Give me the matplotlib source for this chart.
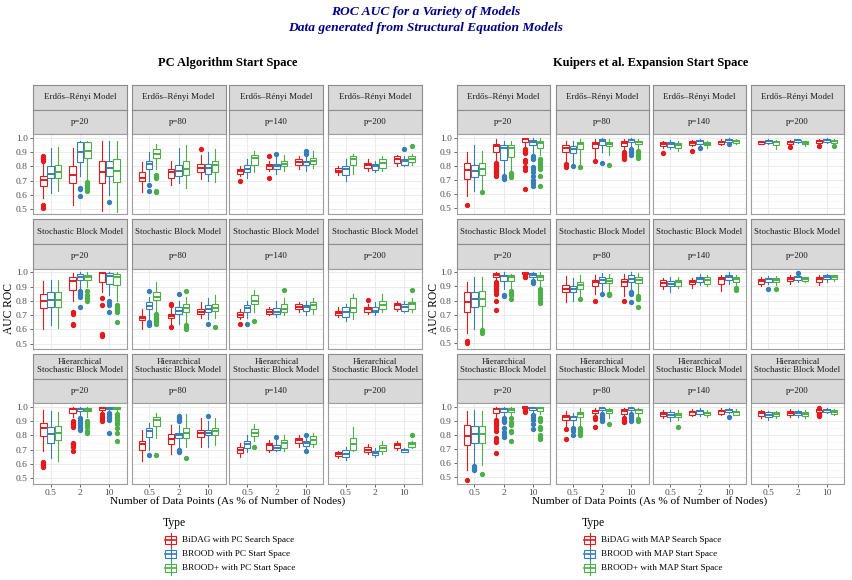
import matplotlib.pyplot as plt
from matplotlib.patches import Rectangle

plt.rcParams['font.family'] = ['Liberation Serif', 'DejaVu Serif']

# categories
p_values = [20, 80, 140, 200]
x_labels = ['0.5', '2', '10']
model_names = ['Erdős–Rényi Model', 'Stochastic Block Model', 'Hierarchical\nStochastic Block Model']
types_pc = ['BiDAG with PC Search Space', 'BROOD with PC Start Space', 'BROOD+ with PC Start Space']
types_map = ['BiDAG with MAP Search Space', 'BROOD with MAP Start Space', 'BROOD+ with MAP Start Space']

# box stats per facet: 9 rows = (0.5, 2, 10) x (BiDAG, BROOD, BROOD+), each [lo, q1, med, q3, hi]
pc_er_box = {
    20: [[0.58, 0.663, 0.705, 0.73, 0.83], [0.61, 0.72, 0.75, 0.80, 0.93], [0.63, 0.72, 0.76, 0.81, 0.94],
         [0.53, 0.68, 0.74, 0.80, 0.93], [0.73, 0.83, 0.90, 0.97, 0.98], [0.70, 0.86, 0.91, 0.97, 0.98],
         [0.49, 0.68, 0.76, 0.84, 0.98], [0.60, 0.73, 0.79, 0.84, 0.98], [0.48, 0.69, 0.77, 0.85, 0.98]],
    80: [[0.62, 0.70, 0.72, 0.76, 0.83], [0.70, 0.78, 0.82, 0.84, 0.90], [0.78, 0.86, 0.89, 0.92, 0.96],
         [0.67, 0.72, 0.76, 0.78, 0.84], [0.68, 0.73, 0.77, 0.81, 0.93], [0.65, 0.74, 0.78, 0.84, 0.95],
         [0.71, 0.76, 0.79, 0.82, 0.88], [0.70, 0.75, 0.79, 0.82, 0.90], [0.69, 0.76, 0.81, 0.84, 0.92]],
    140: [[0.73, 0.75, 0.765, 0.78, 0.80], [0.72, 0.76, 0.78, 0.81, 0.85], [0.76, 0.81, 0.86, 0.88, 0.91],
          [0.77, 0.78, 0.80, 0.82, 0.84], [0.75, 0.78, 0.80, 0.82, 0.87], [0.77, 0.80, 0.82, 0.84, 0.88],
          [0.78, 0.81, 0.83, 0.85, 0.87], [0.77, 0.81, 0.83, 0.84, 0.88], [0.79, 0.82, 0.84, 0.86, 0.91]],
    200: [[0.74, 0.76, 0.77, 0.79, 0.80], [0.70, 0.74, 0.78, 0.80, 0.85], [0.75, 0.81, 0.85, 0.87, 0.89],
          [0.77, 0.79, 0.81, 0.825, 0.85], [0.76, 0.775, 0.80, 0.82, 0.84], [0.77, 0.79, 0.825, 0.85, 0.87],
          [0.80, 0.825, 0.85, 0.87, 0.88], [0.80, 0.81, 0.84, 0.85, 0.87], [0.81, 0.83, 0.855, 0.87, 0.89]],
}
pc_er_out = {
    20: [[0.84, 0.85, 0.86, 0.87, 0.53, 0.51], [], [], [], [0.65, 0.64, 0.59], [0.69, 0.67, 0.65, 0.64, 0.63],
         [], [0.55], []],
    80: [[], [0.67, 0.63], [0.74, 0.73, 0.72, 0.63, 0.62], [], [], [], [0.92], [], []],
    140: [[0.70], [], [], [0.87, 0.72], [0.89], [], [], [0.89, 0.90, 0.91], []],
    200: [[], [], [], [], [], [], [], [0.92], [0.945]],
}

pc_sbm_box = {
    20: [[0.60, 0.75, 0.80, 0.85, 0.94], [0.63, 0.76, 0.81, 0.86, 0.95], [0.61, 0.76, 0.81, 0.86, 0.95],
         [0.80, 0.876, 0.94, 0.97, 0.995], [0.89, 0.95, 0.97, 0.99, 1.0], [0.90, 0.95, 0.965, 0.985, 1.0],
         [0.86, 0.935, 0.995, 1.0, 1.0], [0.84, 0.92, 0.975, 0.995, 1.0], [0.80, 0.91, 0.97, 0.99, 1.0]],
    80: [[0.60, 0.665, 0.68, 0.695, 0.74], [0.67, 0.74, 0.765, 0.79, 0.83], [0.73, 0.81, 0.83, 0.86, 0.93],
         [0.64, 0.68, 0.695, 0.71, 0.76], [0.64, 0.71, 0.73, 0.76, 0.80], [0.64, 0.72, 0.75, 0.78, 0.83],
         [0.68, 0.71, 0.725, 0.74, 0.79], [0.67, 0.72, 0.745, 0.77, 0.82], [0.68, 0.73, 0.75, 0.78, 0.84]],
    140: [[0.67, 0.69, 0.70, 0.72, 0.74], [0.68, 0.72, 0.75, 0.77, 0.80], [0.72, 0.78, 0.80, 0.84, 0.88],
          [0.70, 0.71, 0.72, 0.745, 0.76], [0.69, 0.71, 0.72, 0.75, 0.80], [0.70, 0.72, 0.74, 0.78, 0.82],
          [0.72, 0.74, 0.76, 0.78, 0.79], [0.70, 0.73, 0.755, 0.77, 0.80], [0.71, 0.74, 0.77, 0.79, 0.82]],
    200: [[0.69, 0.70, 0.715, 0.73, 0.76], [0.66, 0.69, 0.72, 0.755, 0.78], [0.67, 0.72, 0.75, 0.82, 0.85],
          [0.71, 0.72, 0.74, 0.755, 0.78], [0.70, 0.72, 0.73, 0.76, 0.79], [0.72, 0.74, 0.77, 0.80, 0.85],
          [0.73, 0.745, 0.77, 0.785, 0.80], [0.72, 0.73, 0.76, 0.78, 0.80], [0.72, 0.745, 0.775, 0.79, 0.82]],
}
pc_sbm_out = {
    20: [[], [], [], [0.72, 0.71, 0.64, 0.63], [0.87, 0.86, 0.85, 0.84, 0.83, 0.76], [0.87, 0.84, 0.82, 0.80],
         [0.82, 0.77, 0.57, 0.55], [0.80, 0.79, 0.77, 0.72], [0.77, 0.76, 0.75, 0.74, 0.73, 0.72, 0.65]],
    80: [[], [0.87, 0.65, 0.64, 0.63], [0.71, 0.70, 0.69, 0.68, 0.67, 0.66, 0.65, 0.64], [0.78, 0.77, 0.62],
         [0.85], [0.87, 0.63, 0.62, 0.61, 0.60], [], [0.64], [0.62]],
    140: [[0.64], [0.64], [0.66], [], [], [0.88], [], [], []],
    200: [[], [], [], [0.81], [], [], [], [], [0.88]],
}

pc_hsbm_box = {
    20: [[0.69, 0.795, 0.855, 0.89, 0.98], [0.64, 0.75, 0.81, 0.86, 0.97], [0.62, 0.765, 0.815, 0.865, 0.965],
         [0.93, 0.955, 0.985, 0.995, 1.0], [0.93, 0.97, 0.985, 0.995, 1.0], [0.93, 0.97, 0.98, 0.995, 1.0],
         [0.96, 0.98, 0.995, 1.0, 1.0], [0.97, 0.985, 0.99, 1.0, 1.0], [0.97, 0.985, 0.99, 1.0, 1.0]],
    80: [[0.62, 0.70, 0.737, 0.76, 0.84], [0.70, 0.79, 0.83, 0.853, 0.89], [0.78, 0.865, 0.91, 0.93, 0.96],
         [0.67, 0.737, 0.775, 0.807, 0.87], [0.71, 0.78, 0.80, 0.82, 0.87], [0.72, 0.784, 0.82, 0.853, 0.95],
         [0.72, 0.79, 0.815, 0.84, 0.92], [0.72, 0.80, 0.82, 0.84, 0.90], [0.73, 0.80, 0.83, 0.855, 0.92]],
    140: [[0.65, 0.674, 0.70, 0.72, 0.75], [0.68, 0.714, 0.74, 0.76, 0.80], [0.76, 0.795, 0.82, 0.846, 0.88],
          [0.68, 0.70, 0.73, 0.75, 0.77], [0.69, 0.70, 0.71, 0.73, 0.77], [0.69, 0.714, 0.745, 0.77, 0.80],
          [0.72, 0.744, 0.765, 0.78, 0.80], [0.70, 0.725, 0.745, 0.76, 0.79], [0.72, 0.737, 0.765, 0.795, 0.82]],
    200: [[0.64, 0.656, 0.67, 0.68, 0.69], [0.63, 0.65, 0.672, 0.70, 0.72], [0.69, 0.70, 0.74, 0.784, 0.86],
          [0.67, 0.684, 0.70, 0.72, 0.74], [0.65, 0.663, 0.675, 0.69, 0.71], [0.67, 0.69, 0.71, 0.73, 0.76],
          [0.70, 0.714, 0.73, 0.744, 0.76], [0.68, 0.684, 0.695, 0.707, 0.71], [0.71, 0.72, 0.74, 0.754, 0.76]],
}
pc_hsbm_out = {
    20: [[0.61, 0.60, 0.59, 0.58], [], [], [0.90, 0.89, 0.88, 0.87, 0.86, 0.75, 0.74, 0.73, 0.72, 0.69],
         [0.92, 0.91, 0.90, 0.89, 0.88, 0.87, 0.86, 0.85, 0.84], [0.90, 0.89, 0.87, 0.86, 0.83, 0.82],
         [0.95, 0.94, 0.93, 0.92, 0.91, 0.90], [0.96, 0.95, 0.94, 0.93, 0.92, 0.91, 0.82],
         [0.95, 0.94, 0.93, 0.92, 0.91, 0.89, 0.88, 0.85, 0.82, 0.76]],
    80: [[], [0.66], [0.66], [], [0.94, 0.93, 0.92, 0.91, 0.90, 0.70, 0.69, 0.68], [0.64], [], [0.935], []],
    140: [[], [], [0.72], [], [0.79], [], [], [0.80, 0.69], []],
    200: [[], [], [], [], [], [], [], [], [0.80]],
}

map_er_box = {
    20: [[0.59, 0.71, 0.77, 0.82, 0.90], [0.62, 0.725, 0.765, 0.81, 0.95], [0.64, 0.735, 0.78, 0.82, 0.91],
         [0.83, 0.90, 0.945, 0.96, 0.99], [0.74, 0.84, 0.93, 0.95, 0.98], [0.76, 0.865, 0.93, 0.95, 0.98],
         [0.93, 0.97, 0.99, 1.0, 1.0], [0.89, 0.95, 0.97, 0.985, 1.0], [0.88, 0.93, 0.965, 0.98, 1.0]],
    80: [[0.83, 0.90, 0.925, 0.95, 0.98], [0.82, 0.895, 0.92, 0.94, 0.98], [0.80, 0.92, 0.955, 0.97, 0.99],
         [0.86, 0.93, 0.955, 0.97, 0.99], [0.90, 0.95, 0.98, 0.99, 1.0], [0.88, 0.94, 0.96, 0.97, 0.99],
         [0.91, 0.945, 0.965, 0.975, 0.99], [0.93, 0.97, 0.985, 0.99, 1.0], [0.925, 0.96, 0.97, 0.98, 0.99]],
    140: [[0.93, 0.94, 0.955, 0.97, 0.98], [0.92, 0.936, 0.96, 0.97, 0.985], [0.91, 0.925, 0.95, 0.965, 0.98],
          [0.94, 0.95, 0.965, 0.976, 0.985], [0.945, 0.96, 0.975, 0.985, 0.995], [0.93, 0.948, 0.96, 0.97, 0.98],
          [0.95, 0.955, 0.97, 0.978, 0.99], [0.96, 0.97, 0.985, 0.993, 1.0], [0.955, 0.965, 0.98, 0.988, 0.995]],
    200: [[0.955, 0.96, 0.97, 0.976, 0.98], [0.96, 0.965, 0.98, 0.985, 0.99], [0.92, 0.95, 0.97, 0.98, 0.985],
          [0.95, 0.96, 0.97, 0.98, 0.985], [0.965, 0.972, 0.983, 0.988, 0.995], [0.945, 0.956, 0.967, 0.975, 0.98],
          [0.96, 0.965, 0.977, 0.985, 0.99], [0.965, 0.97, 0.985, 0.993, 1.0], [0.955, 0.967, 0.978, 0.985, 0.99]],
}
map_er_out = {
    20: [[0.52], [], [0.615], [0.82, 0.81, 0.80, 0.79, 0.78, 0.77, 0.76, 0.75, 0.74, 0.73], [0.73, 0.72, 0.71],
         [0.75, 0.74, 0.73, 0.72], [0.92, 0.91, 0.90, 0.89, 0.84, 0.83, 0.79, 0.77, 0.64],
         [0.87, 0.86, 0.85, 0.79, 0.78, 0.76, 0.73, 0.70, 0.68, 0.655],
         [0.85, 0.84, 0.82, 0.80, 0.79, 0.78, 0.73, 0.66]],
    80: [[0.815, 0.805, 0.795], [0.80], [0.79], [0.835], [0.82], [0.805], [0.90, 0.89, 0.88, 0.87, 0.86, 0.85],
         [0.92, 0.91, 0.90, 0.89, 0.875], [0.91, 0.90, 0.89, 0.88, 0.87, 0.86]],
    140: [[0.89], [], [], [0.91], [0.925], [], [], [0.955], []],
    200: [[], [], [], [0.935], [], [], [0.94], [], [0.945]],
}

map_sbm_box = {
    20: [[0.57, 0.72, 0.79, 0.86, 0.93], [0.60, 0.755, 0.81, 0.86, 0.97], [0.60, 0.76, 0.81, 0.87, 0.97],
         [0.94, 0.97, 0.985, 0.995, 1.0], [0.88, 0.94, 0.975, 0.985, 1.0], [0.89, 0.94, 0.965, 0.98, 0.99],
         [0.98, 0.99, 0.997, 1.0, 1.0], [0.95, 0.965, 0.98, 0.993, 1.0], [0.90, 0.945, 0.97, 0.985, 1.0]],
    80: [[0.79, 0.86, 0.885, 0.91, 0.975], [0.80, 0.86, 0.88, 0.90, 0.96], [0.83, 0.88, 0.91, 0.935, 0.985],
         [0.85, 0.90, 0.93, 0.945, 0.985], [0.87, 0.925, 0.945, 0.965, 0.995], [0.87, 0.925, 0.94, 0.96, 0.99],
         [0.83, 0.90, 0.935, 0.95, 0.99], [0.88, 0.935, 0.955, 0.98, 1.0], [0.85, 0.925, 0.945, 0.97, 0.995]],
    140: [[0.88, 0.905, 0.925, 0.945, 0.96], [0.86, 0.90, 0.92, 0.94, 0.97], [0.89, 0.905, 0.93, 0.945, 0.97],
          [0.89, 0.915, 0.93, 0.945, 0.96], [0.91, 0.935, 0.955, 0.97, 0.99], [0.90, 0.92, 0.945, 0.965, 0.98],
          [0.87, 0.92, 0.95, 0.97, 0.985], [0.92, 0.945, 0.965, 0.98, 1.0], [0.90, 0.935, 0.955, 0.97, 0.985]],
    200: [[0.90, 0.92, 0.94, 0.953, 0.97], [0.92, 0.935, 0.95, 0.96, 0.975], [0.91, 0.935, 0.945, 0.96, 0.975],
          [0.92, 0.94, 0.955, 0.965, 0.98], [0.93, 0.945, 0.965, 0.975, 0.99], [0.93, 0.94, 0.955, 0.965, 0.97],
          [0.91, 0.935, 0.955, 0.97, 0.98], [0.93, 0.95, 0.97, 0.985, 0.99], [0.94, 0.95, 0.97, 0.98, 0.985]],
}
map_sbm_out = {
    20: [[0.51, 0.50], [], [0.59, 0.58, 0.57], [0.93, 0.92, 0.91, 0.90, 0.89, 0.88, 0.87, 0.85, 0.80, 0.73],
         [0.84, 0.835], [0.87, 0.86, 0.85, 0.84, 0.81], [0.975, 0.97, 0.965], [0.94, 0.93, 0.925],
         [0.88, 0.86, 0.84, 0.82, 0.80, 0.79, 0.78]],
    80: [[], [], [0.81], [0.80], [0.85], [0.85, 0.845, 0.84], [0.795], [0.86, 0.855, 0.85, 0.79],
         [0.83, 0.82, 0.81, 0.755]],
    140: [[], [], [], [], [], [], [], [], [0.89, 0.885, 0.88, 0.875]],
    200: [[], [0.88], [0.88], [], [0.995], [], [], [], []],
}

map_hsbm_box = {
    20: [[0.55, 0.73, 0.79, 0.87, 0.97], [0.60, 0.745, 0.81, 0.865, 0.975], [0.59, 0.74, 0.81, 0.865, 0.97],
         [0.93, 0.958, 0.985, 0.993, 1.0], [0.94, 0.965, 0.985, 0.993, 1.0], [0.94, 0.965, 0.98, 0.993, 1.0],
         [0.98, 0.99, 0.997, 1.0, 1.0], [0.96, 0.977, 0.99, 0.998, 1.0], [0.95, 0.97, 0.99, 0.998, 1.0]],
    80: [[0.86, 0.91, 0.93, 0.946, 0.97], [0.86, 0.906, 0.925, 0.935, 0.96], [0.86, 0.93, 0.95, 0.965, 0.99],
         [0.93, 0.958, 0.97, 0.98, 0.99], [0.96, 0.977, 0.99, 0.995, 1.0], [0.92, 0.958, 0.97, 0.986, 0.995],
         [0.93, 0.953, 0.97, 0.986, 0.995], [0.96, 0.981, 0.99, 0.995, 1.0], [0.93, 0.958, 0.975, 0.986, 0.99]],
    140: [[0.92, 0.934, 0.95, 0.965, 0.975], [0.90, 0.93, 0.945, 0.962, 0.975], [0.91, 0.927, 0.94, 0.958, 0.975],
          [0.935, 0.946, 0.962, 0.974, 0.985], [0.935, 0.95, 0.968, 0.981, 0.99], [0.93, 0.94, 0.955, 0.967, 0.975],
          [0.94, 0.95, 0.97, 0.981, 0.99], [0.955, 0.962, 0.975, 0.986, 0.995], [0.94, 0.946, 0.962, 0.974, 0.985]],
    200: [[0.92, 0.934, 0.955, 0.97, 0.98], [0.91, 0.93, 0.945, 0.962, 0.97], [0.92, 0.934, 0.95, 0.962, 0.97],
          [0.93, 0.942, 0.96, 0.974, 0.985], [0.93, 0.942, 0.96, 0.97, 0.98], [0.92, 0.934, 0.95, 0.962, 0.975],
          [0.955, 0.962, 0.975, 0.981, 0.99], [0.955, 0.962, 0.975, 0.986, 0.99], [0.945, 0.953, 0.965, 0.977, 0.985]],
}
map_hsbm_out = {
    20: [[0.48], [0.58, 0.57, 0.56, 0.55], [0.525],
         [0.91, 0.90, 0.89, 0.88, 0.87, 0.85, 0.83, 0.78, 0.76, 0.75, 0.67],
         [0.92, 0.91, 0.90, 0.89, 0.85, 0.82, 0.80, 0.785], [0.92, 0.89, 0.875, 0.87, 0.83, 0.82, 0.76],
         [0.975, 0.97, 0.965], [0.94, 0.93, 0.92, 0.91, 0.88, 0.84],
         [0.92, 0.91, 0.90, 0.86, 0.85, 0.84, 0.80, 0.78, 0.77]],
    80: [[0.84, 0.77], [0.85, 0.84, 0.83, 0.80], [0.85, 0.84, 0.83, 0.82, 0.81, 0.80], [0.925, 0.915, 0.86],
         [0.95, 0.94, 0.93, 0.92, 0.91, 0.90], [0.88], [0.92, 0.91, 0.90, 0.89],
         [0.95, 0.94, 0.93, 0.92, 0.91, 0.90], [0.915, 0.905, 0.90]],
    140: [[], [], [0.86], [], [], [], [], [0.93], []],
    200: [[], [], [], [], [], [], [0.995, 0.95, 0.945, 0.94, 0.935], [], []],
}

colors = ['#E41A1C', '#377EB8', '#4DAF4A']
offsets = [-0.25, 0.0, 0.25]

W, H = 852, 580
fig = plt.figure(figsize=(W / 100, H / 100), dpi=100)


def px_axes(x, y, w, h):
    return fig.add_axes([x / W, 1 - (y + h) / H, w / W, h / H])


def strip(x, y, w, h, text):
    ax = px_axes(x, y, w, h)
    ax.set_facecolor('#D9D9D9')
    ax.set_xticks([])
    ax.set_yticks([])
    for s in ax.spines.values():
        s.set_color('#8C8C8C')
        s.set_linewidth(0.8)
    ax.text(0.5, 0.5, text, ha='center', va='center', fontsize=6.4, color='#1A1A1A',
            linespacing=1.05, transform=ax.transAxes)


def facet(ax, boxes, outs, ylim, first_col, last_row):
    for m in range(3):
        stats, pos = [], []
        for xi in range(3):
            lo, q1, med, q3, hi = boxes[xi * 3 + m]
            stats.append(dict(whislo=lo, q1=q1, med=med, q3=q3, whishi=hi, fliers=outs[xi * 3 + m]))
            pos.append(xi + 1 + offsets[m])
        c = colors[m]
        ax.bxp(stats, positions=pos, widths=0.22, showcaps=False, patch_artist=True,
               boxprops=dict(facecolor='white', edgecolor=c, linewidth=0.8),
               whiskerprops=dict(color=c, linewidth=0.8),
               medianprops=dict(color=c, linewidth=1.4),
               flierprops=dict(marker='o', markerfacecolor=c, markeredgecolor=c,
                               markersize=2.8, linestyle='none'))
    ax.set_xlim(0.4, 3.6)
    ax.set_ylim(*ylim)
    ax.set_yticks([0.5, 0.6, 0.7, 0.8, 0.9, 1.0])
    ax.set_yticks([0.55, 0.65, 0.75, 0.85, 0.95], minor=True)
    ax.set_xticks([1, 2, 3])
    ax.set_xticklabels(x_labels)
    ax.grid(True, which='major', color='#EBEBEB', linewidth=0.7)
    ax.grid(True, which='minor', axis='y', color='#F2F2F2', linewidth=0.4)
    ax.set_axisbelow(True)
    for s in ax.spines.values():
        s.set_color('#9E9E9E')
        s.set_linewidth(0.8)
    ax.tick_params(which='minor', left=False)
    ax.tick_params(labelsize=6.8, labelcolor='#4D4D4D', color='#4D4D4D', length=2.5, width=0.6, pad=1.2)
    ax.tick_params(left=first_col, labelleft=first_col, bottom=last_row, labelbottom=last_row)


row_tops = [85, 219.5, 354]
strip_h = 24.5
panel_h = 80.5
panels = [
    dict(cols=[33, 131.5, 229.5, 328], w=94, ylim=(0.462, 1.028),
         data=[(pc_er_box, pc_er_out), (pc_sbm_box, pc_sbm_out), (pc_hsbm_box, pc_hsbm_out)]),
    dict(cols=[457, 555.5, 653, 751], w=93, ylim=(0.455, 1.028),
         data=[(map_er_box, map_er_out), (map_sbm_box, map_sbm_out), (map_hsbm_box, map_hsbm_out)]),
]

for pnl in panels:
    for r, (box_d, out_d) in enumerate(pnl['data']):
        top = row_tops[r]
        for c, p in enumerate(p_values):
            x = pnl['cols'][c]
            strip(x, top, pnl['w'], strip_h, model_names[r])
            strip(x, top + strip_h, pnl['w'], strip_h, 'p=%d' % p)
            ax = px_axes(x, top + 2 * strip_h, pnl['w'], panel_h)
            facet(ax, box_d[p], out_d[p], pnl['ylim'], c == 0, r == 2)

# overlay for titles and legends, in pixel units
ov = fig.add_axes([0, 0, 1, 1], facecolor='none')
ov.set_xlim(0, W)
ov.set_ylim(H, 0)
ov.axis('off')

ov.text(426, 12, 'ROC AUC for a Variety of Models', ha='center', va='center', fontsize=9.7,
        fontweight='bold', style='italic', color='#00008B')
ov.text(426, 28, 'Data generated from Structural Equation Models', ha='center', va='center', fontsize=9.7,
        fontweight='bold', style='italic', color='#00008B')
ov.text(228, 63, 'PC Algorithm Start Space', ha='center', va='center', fontsize=9, fontweight='bold')
ov.text(651, 63, 'Kuipers et al. Expansion Start Space', ha='center', va='center', fontsize=9, fontweight='bold')

for cx, lx in [(228, 9), (650, 434)]:
    ov.text(cx, 501, 'Number of Data Points (As % of Number of Nodes)', ha='center', va='center', fontsize=8.1)
    ov.text(lx, 308, 'AUC ROC', ha='center', va='center', rotation=90, fontsize=8.3)

for lx, names in [(163, types_pc), (582, types_map)]:
    ov.text(lx, 523, 'Type', ha='left', va='center', fontsize=8.3)
    for i, name in enumerate(names):
        cy = 540 + i * 14
        c = colors[i]
        ov.plot([lx + 7.5, lx + 7.5], [cy - 7, cy + 7], color=c, linewidth=0.8)
        ov.add_patch(Rectangle((lx + 2, cy - 4), 11, 8, facecolor='white', edgecolor=c, linewidth=0.8))
        ov.plot([lx + 2, lx + 13], [cy, cy], color=c, linewidth=1.2)
        ov.text(lx + 19, cy, name, ha='left', va='center', fontsize=6.6)

fig.savefig('out.png', dpi=100)
